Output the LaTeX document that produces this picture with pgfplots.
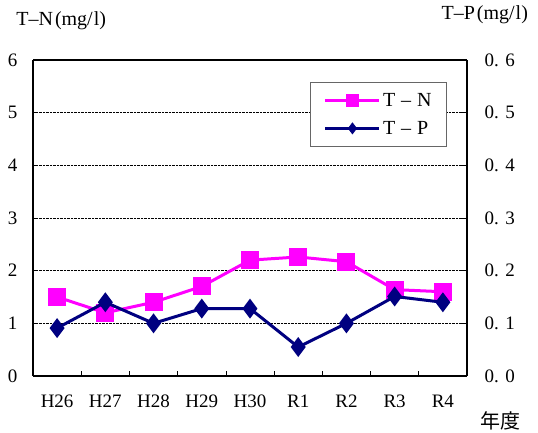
\documentclass[border=0pt]{standalone}
\usepackage{pgfplots}
\pgfplotsset{compat=1.18}
\usepackage{fontspec}
\setmainfont{Liberation Serif}
\newfontfamily\cjk{Noto Sans CJK JP}
\definecolor{tnc}{RGB}{255,0,255}
\definecolor{tpc}{RGB}{0,0,128}
\begin{document}
\begin{tikzpicture}[x=1pt,y=1pt]
\path[use as bounding box] (-33,-56) rectangle (505,376);
\pgfplotsset{
  common/.style={
    at={(0,0)}, anchor=south west,
    scale only axis, width=434pt, height=316pt,
    xmin=-0.5, xmax=8.5,
    xtick={0,...,8},
    xticklabels={H26,H27,H28,H29,H30,R1,R2,R3,R4},
    major x tick style={draw=none},
    minor xtick={0.5,1.5,...,7.5},
    minor tick length=5pt,
    minor x tick style={black, line width=0.7pt},
    tick align=inside,
    /pgf/number format/assume math mode=true,
    tick label style={font=\fontsize{19}{20}\selectfont},
    axis line style={line width=2.2pt},
  }
}
\begin{axis}[common,
  ymin=0, ymax=6, ytick={0,...,6},
  ymajorgrids, major grid style={black, densely dotted, line width=0.7pt},
  axis y line*=left, axis x line*=bottom,
  yticklabel style={anchor=east, xshift=-12pt},
  xticklabel style={anchor=center, yshift=-25pt},
  major y tick style={black, line width=0.7pt},
  major tick length=5pt,
  clip=false,
  legend style={at={(0.954,0.930)}, anchor=north east, draw=black!60, line width=0.7pt,
    font=\fontsize{20}{21}\selectfont, row sep=9pt, inner xsep=13pt, inner ysep=9pt},
  legend cell align=left,
  legend image code/.code={
    \draw[#1, line width=3.2pt] (0pt,0pt) -- (54pt,0pt);
    \draw[#1, mark options={solid}] plot coordinates {(27pt,0pt)};
  },
]
\addplot[tnc, line width=3pt, mark=square*, mark size=7.5pt, mark options={fill=tnc}]
  coordinates {(0,1.50) (1,1.20) (2,1.40) (3,1.70) (4,2.20) (5,2.26) (6,2.17) (7,1.64) (8,1.60)};
\addlegendimage{tnc, mark=square*, mark size=6pt, mark options={fill=tnc}}
\addlegendimage{tpc, mark=diamond*, mark size=5.5pt, mark options={fill=tpc}}
\legend{,T\hspace{0.3em}–\hspace{0.3em}N,T\hspace{0.3em}–\hspace{0.3em}P}
\node[font=\fontsize{20}{21}\selectfont] at (rel axis cs:0.065,1.123) {T–N\hspace{2pt}(mg/\hspace{1pt}l)};
\node[font=\fontsize{20}{21}\selectfont] at (rel axis cs:1.041,1.142) {T–P\hspace{2pt}(mg/\hspace{1pt}l)};
\node[font=\cjk\fontsize{20}{21}\selectfont] at (rel axis cs:1.078,-0.142) {年度};
\end{axis}
\begin{axis}[common,
  ymin=0, ymax=0.6, ytick={0,0.1,...,0.6},
  yticklabels={0.\hspace{0.35em}0,0.\hspace{0.35em}1,0.\hspace{0.35em}2,0.\hspace{0.35em}3,0.\hspace{0.35em}4,0.\hspace{0.35em}5,0.\hspace{0.35em}6},
  axis y line*=right, axis x line*=top,
  xticklabels={}, minor xtick={}, xtick=\empty,
  yticklabel style={anchor=west, xshift=14pt},
  major y tick style={black, line width=0.7pt},
  major tick length=5pt,
]
\addplot[tpc, line width=3pt, mark=diamond*, mark size=7.5pt, mark options={fill=tpc}]
  coordinates {(0,0.091) (1,0.140) (2,0.100) (3,0.128) (4,0.128) (5,0.055) (6,0.100) (7,0.151) (8,0.140)};
\end{axis}
\end{tikzpicture}
\end{document}
